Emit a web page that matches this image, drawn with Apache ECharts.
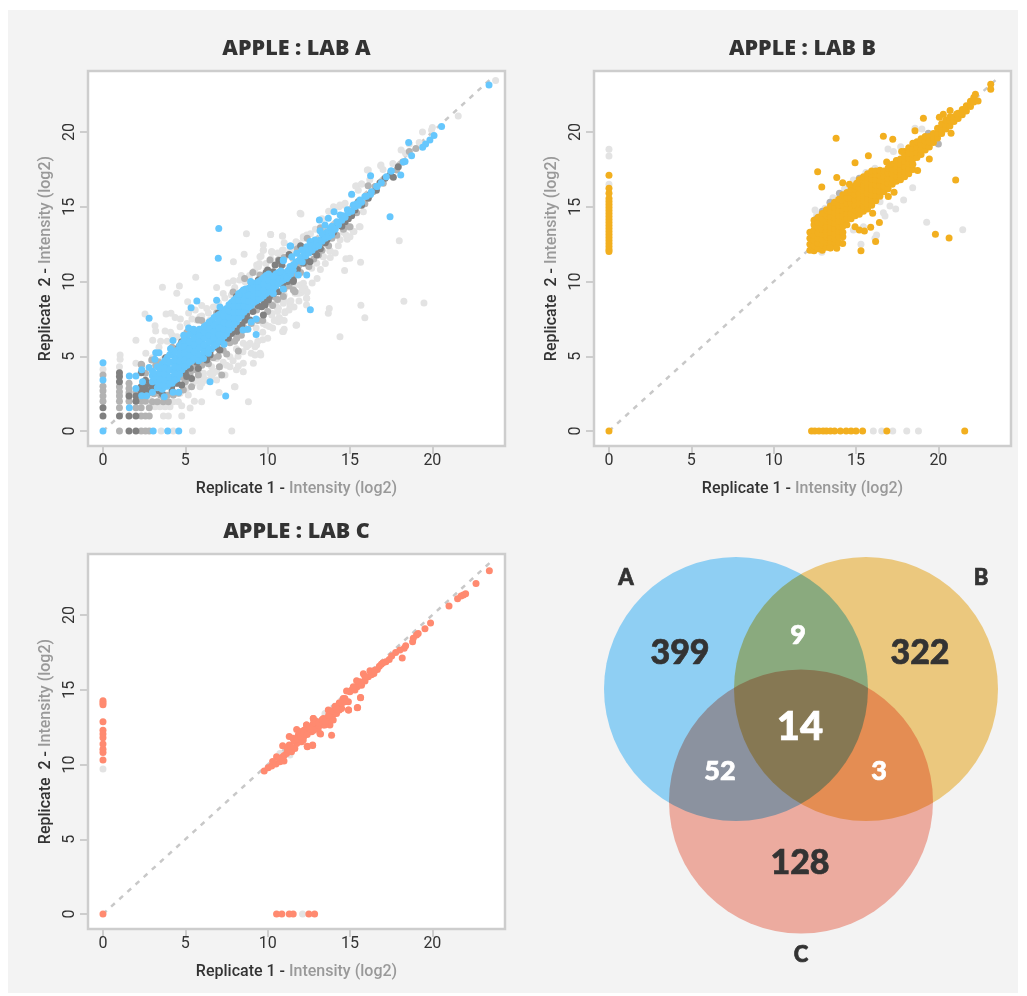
<!DOCTYPE html>
<html><head><meta charset="utf-8">
<style>html,body{margin:0;padding:0;background:#fff}#c{width:1027px;height:996px}</style>
<script src="https://cdn.jsdelivr.net/npm/echarts@6/dist/echarts.min.js"></script></head>
<body><div id="c"></div>
<script>
const tickValues=[0,5,10,15,20];
const titles=['APPLE : LAB A','APPLE : LAB B','APPLE : LAB C'];
const diagonal=[[0,0],[23.6,23.6]];

const aLight=[[23.84,23.44],[21.57,21.07],[19.95,20.14],[19.2,19.29],[18.37,18.58],[16.86,17.75],[16.05,17.46],[15.34,16.39],[15.7,16.52],[12.02,14.52],[10.18,13.14],[10.89,13.05],[12.16,13],[9.73,12.1],[10.26,11.95],[10.89,12.1],[15.56,13.67],[15.24,13.34],[15,13],[14.83,12.82],[14.29,12.4],[13.78,12.04],[13.38,11.67],[17.99,12.73],[15.64,11.29],[14.99,11.55],[14.75,11.53],[14.67,10.73],[18.27,8.68],[19.49,8.57],[15.66,8.41],[13.74,8.19],[13.68,7.87],[15.9,7.58],[14.39,6.31],[11.72,7.07],[10.91,6.65],[12.36,8.88],[12.36,8.43],[11.41,8.72],[11.35,8.36],[11.05,7.92],[10.85,7.43],[10.5,7.43],[9.73,7.2],[12.26,9.55],[11.92,9.21],[11.66,9.21],[11.55,9.66],[10.99,8.77],[10.54,8.32],[10.24,7.87],[14.33,15],[14.59,15.12],
[5.63,10.28],[3.61,9.61],[4.64,9.7],[4.48,9.21],[7.92,10.06],[8.63,9.99],[2.55,7.83],[3.16,7.05],[3.2,6.69],[2,6.07],[3.02,6.07],[3.77,6.69],[3.83,7.83],[4.13,7.87],[4.38,7.6],[4.68,6.98],[5.14,8.65],[6.3,8.2],[6.7,8.3],[5.89,7.65],[6.5,7.43],[5.69,7.43],[5.39,6.09],[4.88,5.98],[3.67,4.8],[2,4.53],[3.06,3.86],[8.83,1.96],[7.98,2.97],[7.05,2.57],[5.89,2.97],[5.99,1.96],[5.55,1.99],[5.29,1.54],[4.78,1],[3.67,1],[3.97,1],[5.43,0],[7.82,0],[3.53,0],[4.27,0],[1.04,5.09],[1.04,4.8],[1,4.3],[0,4.13],[6.7,3.86],[6.9,3.41],[6.1,3.86],[8.22,4.35],[8.52,4.53],[9.23,5.09],[9.54,5.2],[8.83,5.75],[9.23,5.64],[8.52,5.87],[10.95,6.65],[11.76,7.09],[10.65,7.31],[11.05,7.98],[10.25,7.76],[10.45,8.54],[11.36,8.54],[10.85,8.77],[7.92,11.33],[9.33,11.1],[9.94,10.77],
[8.71,13.2],[10.18,13.15],[10.91,13.04],[8.57,11.82],[9.74,12.1],[9.6,11.7],[10.25,11.95],[9.43,11],[11.97,14.56],[11.72,12.66],
[12.37,13.11],[12.17,12.89],[11.86,12.56],[10.95,12.11],[10.75,11.78],[10.24,12],[9.74,12.45],[9.53,11.66],[9.43,11],[9.23,10.66],[14.39,15.12],[14.7,15.23],[15.81,14.67],[15.61,13.67],[15.2,13.34],[14.76,13.11],[13.79,12.06],[13.38,11.66],[12.98,11.22],[12.67,10.88],[11.96,9.77],[12.17,9.88],[11.56,9.66],[11.76,9.21],[12.06,9.26],[12.37,8.88],[11.36,8.65],[10.95,8.54],[10.65,8.21],[15.4,16.39],[15.71,16.52],[16.11,17.46],[16.88,17.8],
[6.9,4.86],[6.6,4.3],[6.5,3.86],[6.09,3.64],[5.89,3.3],[5.49,3.19],[5.08,2.85],[5.18,2.41],[4.68,2.52],[4.27,1.96],[4.58,1.96],[3.16,1.63],[3.46,1.63],[3.77,1.63],[4.07,1.63],[4.78,1.7],[2.85,2.07],[7.1,4.3],[7.41,3.75],[8.52,3.97],[9.13,4.53],[9.58,5.08],[8.02,2.97],[7.71,4.3],[7.71,4.97],[8.1,5.5],[8.93,5.87],[8.72,5.64],[9.33,5.75],[9.7,6.6],[10,6.2],[9.9,7.1],[10.3,6.9],[9.3,6.9],[10.6,8],[11,9.1],[5.2,7.9],[6,8.4],[7.3,9.2],[6.9,9.6],[7.6,9.9],[8.4,10.4],[4.2,6.4],[4.5,6.3],[3.4,5.6],[2.6,5.2],[3,4.9],
[5.6,3.4],[6,3.2],[6.3,3.4],[6.6,3.6],[6.9,4],[7.3,4.6],[7.5,4.4],[7.9,4.7],[8.2,5],[8.5,5.3],[8.1,4.1],[9,5.2],[9.4,6],[9.7,6.1],[10.1,7],[10.4,7.4],[10.7,7.6],[11,7.4],[11.3,8.1],[11.6,8.3],[11.9,8.7],[12.1,9.5],[12.4,9.3],[12.7,9.9],[13,10.2],[13.2,10.8],[13.5,11.2],[13.8,11.6],[14.1,11.9],[14.4,12.8],[14.6,13.3],[15,13.6],[11,6.8],
[3.5,6],[3.9,6],[4.1,6.6],[4.7,7.5],[5.1,7.2],[5.4,7.5],[5.6,8.1],[6,7.7],[6.4,7.9],[7,8.6],[7.4,8.9],[7.8,9.1],[8,9.6],[8.3,10.1],[8.9,10.4],[9.2,10.7],[9.5,11.2],[9.9,11.2],[10.2,11.5],[10.6,11.9],[11,12.6],[11.4,12.1],[11.7,12.2],[12.6,13.2],[12.9,13.5],[13.3,14.2],[13.7,14.7],[14,15],[15.1,15.8],[15.5,16.1],[16.2,16.8],[17,17.5],[17.6,17.9],[18.1,18.8],[18.6,19.2],[19.4,20],[20,20.3]];
const aMid=[[0,3.75],[0,3],[0,2.7],[0,2.35],[0,2],[1,2.97],[1,2.63],[1,2.35],[1,2],[1,1.56],[1,0],[1.58,3.2],[1.58,2.85],[1.58,2.56],[1.58,2],[2,2.63],[2,1.56],[2.32,4.46],[2.32,2],[2.32,1.56],[2.32,1],[2.32,0],[2.58,3.86],[2.58,2],[2.58,1],[2.58,0],[2.81,1],[2.81,0],[2.81,1.56],[3,1.96],[3.3,1.96],[3.66,1.96],[3.97,1.96],[4.27,2.41],[4.58,2.52],[4.47,3.19],[4.88,2.74],[5.38,2.97],[5.79,3.75],[5.79,4.3],[6.5,4.97],[7.07,5.42],[7.51,5.15],[8.22,5.35],[7.07,4.3],[7.21,3.75],[5.79,7.43],[2.35,4.42],[2.96,4.75],[3.36,4.64],[7.71,7.09],[8.52,6.98],[8.12,6.2],[7.51,6.42],[9.33,8.1],[10.04,8.65],[10.24,9.43],[11.15,10.1],[11.66,9.32],[4.68,5.75],[4.47,5.42],[6.3,6.76],[16.52,16.35],[17.02,16.57],[17.83,17.46],[15,13.67],[14.8,14.23],[13.38,12.56],[13.08,11.78],[11.56,10.44],[10.14,11.44],[10.65,11.44],[11.86,11],[9.53,10.44],[9.33,9.66],[10.34,9],[10.95,9],[10.45,9.32],[11.56,9.43],[18.2,18],[18.6,18.7],[19,18.9],[16.1,16.4],[13.9,12.9],[14.6,13.5],[12.4,11.2],[4.8,3.6],[5.6,4.5],[6.1,4.6],[3.1,2.5],[3.5,2.4],
[3.9,2.4],[4.2,2.6],[5,3.3],[5.3,3.9],[5.6,4.1],[6,4.4],[6.4,4.5],[6.7,4.9],[7,5],[7.3,5.4],[7.7,5.9],[8,6],[8.4,6.4],[8.7,6.8],[9,7.2],[9.4,7.4],[9.7,7.4],[10,8],[10.3,8.4],[10.6,8.8],[11,9.5],[11.3,9.7],[12,10.6],[12.5,11],[12.8,11.5],[13.3,12.1],[13.7,12.4],[14.2,13.1],[14.8,13.7],[15.4,14.6],[15.9,15.2],[16.4,16],[9.1,10.6],[8.6,10.2],[7.9,9.3],[6.9,7.9],[6,7.4],[5.1,6.6],[4.2,5.6],[3.2,4.4],[11,11.6],[11.8,12.2],[12.4,12.9],[13.2,13.6]];
const aDark=[[0,1.56],[0,1],[1,3.9],[1,3.64],[1,3.3],[1,1],[1.58,2.35],[1.58,1],[1.58,0],[2,2.35],[2,2],[2,1],[2,0],[2.32,3.9],[2.32,2.97],[2.32,2.63],[2.58,3.4],[2.58,2.97],[2.58,2.63],[2.45,2.97],[2.85,3.19],[2.25,2.85],[3.26,2.85],[2.55,2.74],[3,2.9],[3.6,2.5],[4.17,2.97],[4.78,3.08],[5.08,3.64],[5.38,3.52],[5.79,4.19],[6.3,4.75],[5.28,4.75],[4.88,4.64],[4.68,4.3],[6.2,5.3],[6.5,5.08],[7.61,6.2],[7.81,6.53],[8.12,6.65],[8.42,7.1],[8.72,7.76],[8.93,7.43],[9.74,7.76],[9.64,8.32],[10.34,9.2],[10.65,9.32],[11.36,10.44],[11.56,10.1],[8.62,9.2],[6.09,6.76],[4.78,5.98],[5.49,4.86],[7.1,5.42],[17.13,16.9],[16.82,16.61],[17.63,16.97],[16.11,15.57],[15.5,15.34],[15.3,14.79],[14.7,14],[14.39,13.78],[14.09,13.67],[12.87,12.11],[12.98,11.78],[12.57,11.33],[12.17,11.22],[10.85,11.11],[10.45,11.11],[11.56,10],[10.34,10.66],[10,10.77],[10.95,10.33],[9.43,10.1],[9.84,8.43],[10.34,9.77],[10.04,8.77],[17.43,17.13],[17.93,17.68],[14.9,14.2],[13.6,12.8],[12.2,11.6],[11.2,10.6],
[5.7,4.6],[6.1,4.9],[6.5,5.3],[6.9,5.6],[7.3,5.9],[7.6,6.3],[8,6.7],[8.3,7],[8.6,7.4],[9.1,8],[9.4,8.4],[9.8,8.6],[10.1,9],[10.5,9.4],[10.9,9.8],[11.2,10],[11.8,10.8],[12.4,11.4],[12.7,12],[13.2,12.2],[13.5,12.6],[14,13.3],[14.5,13.7],[15.1,14.4],[15.7,15.1],[16.2,15.8],[16.6,16.1],[2.7,2.5],[3.1,3.1],[3.4,2.7],[2.9,2.7],[4.5,3.2],[4.2,2.7],[5,3.9],[5.3,4.2],[9.9,10.6],[10.7,11.4],[11.3,11.8],[12,12.4],[9,9.9],[8.1,9],[7,7.9],[5.9,6.7],[4.6,5.6],[3.8,4.9]];
const aBlueBand=[[3.0,[3.3,3.7,4.0]],[3.3,[2.9,3.3,3.7,4.3]],[3.6,[2.8,3.2,3.6,4.0,4.5]],[3.9,[3.0,3.4,3.9,4.3,4.9]],[4.2,[3.2,3.6,4.1,4.6,5.1]],[4.5,[3.5,4.0,4.4,4.9,5.4]],[4.8,[4.1,4.5,5.0,5.5,5.9]],[5.1,[4.4,4.9,5.3,5.8,6.2]],[5.4,[4.7,5.2,5.6,6.0,6.5]],[5.7,[4.9,5.4,5.8,6.2,6.6]],[6.0,[5.1,5.6,6.0,6.4,6.8]],[6.3,[5.3,5.7,6.2,6.7,7.1]],[6.6,[5.5,6.0,6.4,6.9,7.4]],[6.9,[5.8,6.3,6.7,7.2,7.7]],[7.2,[6.1,6.6,7.0,7.5,7.9]],[7.5,[6.5,6.9,7.4,7.8,8.2]],[7.8,[6.9,7.3,7.7,8.2,8.6]],[8.1,[7.3,7.7,8.1,8.5,8.9]],[8.4,[7.7,8.1,8.5,8.9,9.3]],[8.7,[8.1,8.5,8.9,9.4]],[9.0,[8.4,8.8,9.2,9.7]],[9.3,[8.7,9.1,9.5,9.9]],[9.6,[8.9,9.3,9.7,10.1]],[9.9,[9.2,9.6,10.0,10.4]],[10.2,[9.4,9.8,10.2]],[10.5,[9.7,10.1,10.5]],[10.8,[10.0,10.4,10.7]],[11.1,[10.2,10.6]],[11.4,[10.5,10.9]],
[3.15,[3.5,3.85]],[3.45,[3.1,3.5,3.9,4.2]],[3.75,[3,3.4,3.8,4.2,4.7]],[4.05,[3.2,3.6,4.1,4.6,5.1]],[4.35,[3.4,3.85,4.3,4.75,5.3]],[4.65,[3.8,4.25,4.7,5.2,5.7]],[4.95,[4.3,4.75,5.2,5.65,6.1]],[5.25,[4.6,5.05,5.5,5.95,6.45]],[5.55,[4.85,5.3,5.75,6.2,6.7]],[5.85,[5.1,5.55,6,6.4,6.8]],[6.15,[5.3,5.75,6.2,6.6,7]],[6.45,[5.5,5.95,6.4,6.85,7.3]],[6.75,[5.7,6.2,6.65,7.1,7.6]],[7.05,[6,6.45,6.9,7.35,7.8]],[7.35,[6.35,6.8,7.25,7.7,8.1]],[7.65,[6.75,7.15,7.6,8.05,8.45]],[7.95,[7.15,7.55,7.95,8.35,8.75]],[8.25,[7.55,7.95,8.35,8.75,9.15]],[8.55,[7.95,8.35,8.75,9.2]],[8.85,[8.3,8.7,9.1,9.55]],[9.15,[8.6,9,9.4,9.8]],[9.45,[8.8,9.2,9.6,10]],[9.75,[9.05,9.45,9.85,10.25]],[10.05,[9.3,9.7,10.1,10.5]],[10.35,[9.55,9.95,10.35]],[10.65,[9.85,10.25,10.6]],[10.95,[10.1,10.5]],[11.25,[10.35,10.75]],[11.55,[10.75,11.1]]];
const aBlue=[[0,4.57],[0,3.41],[0,0],[1.6,3.68],[2,3.68],[2,2.85],[1.6,1.56],[2.35,4.1],[2.4,3.3],[2.35,2.36],[2.65,2.36],[3,2.6],[2.8,4.25],[2.8,7.54],[3.15,4.8],[3.2,5.24],[3.4,5.24],[3.72,2.3],[4.25,2.6],[4.6,2.6],[4.25,6.05],[5.35,8.25],[5.7,8.7],[6.5,3.3],[7.45,2.35],[6.9,8.75],[7.1,8.3],[9.3,6.45],[9,7.3],[9.3,7.5],[8.8,6.8],[8.5,6.75],[3.05,0],[3.93,0],[4.6,0],[8.65,9.5],[8.25,9.2],[5.2,6.9],[5.5,6.8],[4.9,6.4],[4.1,5.5],[5.8,4.7],[6.1,4.85],[6.4,5.2],[7.35,5.8],
[18.24,18],[18.08,17.13],[17.5,17.4],[16.25,17.08],[17.43,14.34],[16.62,16.35],[16.25,15.83],[15.1,15.83],[15.9,15.68],[15.6,15.45],[15.2,15.12],[14.84,14.8],[14.03,14.67],[13.68,14.23],[13.14,14.12],[14.4,14.45],[13.48,13.78],[13.8,13.56],[13.18,13.4],[13.88,13.11],[13.38,13.11],[12.87,12.78],[12.57,12.67],[13.18,12.78],[11.36,12.38],[12.37,12.33],[12.07,12.11],[11.76,11.89],[11.46,11.66],[10.95,11.44],[12.37,10.44],[11.86,10.44],[11.36,11],[11.15,10.2],[10.75,10.66],[10.34,10.33],[8.97,10],[8.52,9.43],[10.95,9.5],[10.34,9.2],[12.59,8.12],
[23.44,23.15],[20.56,20.36],[20.1,19.76],[19.85,19.47],[19.59,19.2],[19.41,18.98],[18.56,19.29],[18.74,18.42],[18.34,18.02],[17.49,17.39],[16.65,16.37],[7.03,13.55],[7,11.55],[11.4,12.37],[10.95,11.39],[12.7,12.4],[13,12.6],[13.6,13.3],[14.2,14],[14.6,14.4],[15.4,15.2],[11.7,11.3],[12,11.6],[12.2,11.9],[12.5,12.1],[13.3,13.2],[13.9,13.7],
[11.6,11.1],[11.9,11.4],[12.1,11.3],[12.3,11.7],[12.5,11.9],[12.7,12.1],[12.9,12.3],[13.1,12.4],[13.3,12.7],[13.5,12.9],[13.7,13],[13.9,13.3],[14.1,13.5],[14.3,13.8],[14.5,14.1],[14.7,14.3],[14.9,14.6],[15.1,14.7],[15.3,15],[15.5,15.1],[15.7,15.3],[16,15.7],[16.3,16],[16.9,16.6],[17.2,17]];

const bLight=[[0,18.84],[0,18.4],[0,16.5],[16.05,0],[16.56,0],[17.23,0],[18.08,0],[18.79,0],[19.29,13.96],[21.48,13.47],[18.44,16.28],[17.89,15.45],[17.41,14.85],[17.06,15.05],[16.76,14.38],[16.66,14.6],[16.25,13.11],[16.15,12.89],[15.3,12.49],[16.94,18.86],[17.27,18.69],[17.71,19.02],[18.58,20.25],[16.15,17.57],[14.84,16.79],[13.42,15.23],[13.12,14.9],[12.51,14.78],[12.61,14.45],[12.92,11.95],[14.84,13.45],[16.46,15.34],[15.45,13.67],[15.95,15.12],[13.6,15.6],[14.3,16.2],[15.6,17.3],[19,20.2]];
const bMid=[[19.39,19.91],[20,19.2],[13.99,15.9],[13.42,15.3],[12.6,14.2],[12.95,14.7],[15.2,16.9]];
const bBand=[[12.2,[12.1,12.5,12.9,13.3]],[12.45,[12.05,12.4,12.75,13.1,13.45,13.8,14.1]],[12.7,[12.2,12.55,12.9,13.25,13.6,13.95,14.3]],[12.95,[12.1,12.45,12.8,13.15,13.5,13.85,14.2,14.55]],[13.2,[12.3,12.65,13,13.35,13.7,14.05,14.4,14.8]],[13.45,[12.25,12.6,12.95,13.3,13.65,14,14.35,14.7,15.05]],[13.7,[12.5,12.85,13.2,13.55,13.9,14.25,14.6,14.95,15.3]],[13.95,[12.6,13,13.35,13.7,14.05,14.4,14.75,15.1,15.5]],[14.2,[13,13.3,13.7,14.05,14.4,14.75,15.1,15.45,15.8]],[14.45,[13.8,14.2,14.55,14.9,15.25,15.6,15.95]],[14.7,[14.2,14.55,14.9,15.25,15.6,15.95,16.2]],[14.95,[14.4,14.75,15.1,15.45,15.8,16.15,16.4]],[15.2,[14.5,14.85,15.2,15.55,15.9,16.25,16.6,16.8]],[15.45,[14.7,15.05,15.4,15.75,16.1,16.45,16.8,17]],[15.7,[14.85,15.2,15.55,15.9,16.25,16.6,16.95,17.2]],[15.95,[15.1,15.45,15.8,16.15,16.5,16.85,17.2,17.4]],[16.2,[15.4,15.75,16.1,16.45,16.8,17.15,17.4]],[16.45,[15.7,16.05,16.4,16.75,17.1,17.45]],[16.7,[16,16.35,16.7,17.05,17.4]],[16.95,[16.2,16.55,16.9,17.25,17.6]],[17.2,[16.5,16.85,17.2,17.55,17.85]],[17.45,[16.7,17.05,17.4,17.75,18.1]],[17.7,[16.8,17.15,17.5,17.85,18.2]],[17.95,[17,17.35,17.7,18.05,18.4,18.7]],[18.2,[17.2,17.55,17.9,18.25,18.6,18.95]],[18.45,[17.5,17.85,18.2,18.55,18.9,19.25]],[18.7,[18.3,18.65,19,19.35]],[18.95,[18.5,18.85,19.2,19.55]],[19.2,[18.8,19.1,19.4,19.7]],[19.45,[19,19.35,19.7]],[19.7,[19.3,19.6,19.9]],[19.95,[19.6,19.95,20.25]],[20.2,[19.9,20.2,20.55]],[20.45,[20.2,20.5,20.8]],[20.7,[20.4,20.75,21]],[20.95,[20.7,21]],[21.2,[20.9,21.25]],[21.45,[21.15,21.5]],[21.7,[21.4,21.75]],[21.95,[21.7,22.05]],[22.15,[22,22.3]]];
const bOrange=[[0,0],[0,17.1],[0,16.23],[0,15.9],[0,15.56],[0,15.35],[0,15.15],[0,14.95],[0,14.75],[0,14.55],[0,14.35],[0,14.15],[0,13.95],[0,13.75],[0,13.55],[0,13.35],[0,13.15],[0,12.95],[0,12.75],[0,12.55],[0,12.35],[0,12.15],[0,12],[12.3,0],[12.5,0],[12.75,0],[13,0],[13.2,0],[13.45,0],[13.7,0],[14.05,0],[14.4,0],[14.7,0],[15,0],[15.4,0],[16.87,0],[21.6,0],[23.18,23.19],[23.18,22.86],[22.25,22.52],[22.41,22.08],[20.71,21.43],[21.11,21.2],[20.3,21.18],[20.06,20.98],[19.09,20.92],[20.77,19.91],[18.58,20.09],[16.66,19.71],[17.23,19.51],[13.79,19.58],[15.75,18.42],[14.94,17.95],[12.67,17.35],[13.83,16.95],[12.92,16.32],[14.19,16.61],[14.6,16.5],[15.04,16.57],[16.86,18],[17.77,18.69],[19.45,18.2],[18.74,17.42],[21.05,16.79],[19.82,13.16],[20.65,12.91],[16.42,13.94],[15.89,13.63],[15.51,13.38],[15.2,13.45],[14.94,13.67],[16.19,12.67],[15.3,12.06],[16.96,15.68],[17.31,15.97],[16.01,14.56],[14.19,12.55],[13.83,12.22],[13.42,12.26]];

const cLight=[[0,9.7],[12.12,0],[13.48,13.42],[10.74,10.74],[11.35,10.63]];
const cSalmon=[[0,0],[0,14.27],[0,14.13],[0,14],[0,12.86],[0,12.3],[0,12.04],[0,11.79],[0,11.37],[0,11.03],[0,10.81],[0,10.3],[10.54,0],[10.86,0],[11.31,0],[11.55,0],[12.5,0],[12.85,0],
[23.46,22.96],[22.65,22.11],[22.02,21.42],[21.88,21.33],[21.74,21.27],[21.53,21.09],[21.01,20.6],[19.89,19.46],[19.55,19.08],[19.14,18.77],[19.04,18.66],[18.84,18.44],[18.8,18.21],[18.38,17.95],[18.29,17.77],[18.17,17.12],[18.03,17.66],[17.77,17.5],[17.53,17.25],[17.38,17.03],[17.18,16.87],[16.78,16.58],[16.66,16.36],[16.45,16.09],[16.21,16.27],[15.81,16.07],[16.11,15.87],[15.91,15.58],[15.6,15.54],[15.44,15.2],[15.3,14.98],[15.64,14.47],[15.1,14.98],[14.79,14.91],[15.44,13.8],[14.91,13.64],[14.9,14.2],[14.59,14.42],[14.35,14.13],[14.49,13.75],[13.98,13.35],[13.68,13.64],[12.77,13.08],[12.36,12.64],[13.88,11.95],[12.73,11.28],[12.41,11.19],[13.21,12.04],[13.38,13.08],[13.68,13.08],[12.97,12.86],[13.78,12.64],[13.38,12.64],[12.97,12.42],[12.67,12.19],[12.26,12.19],[11.96,12.19],[12.16,11.86],[11.96,11.52],
[9.79,9.56],[10.03,9.78],[10.24,9.9],[10.54,10.52],[10.5,10.03],[10.74,10.19],[10.99,10.23],[10.91,11.26],[11.31,11.88],[11.31,11.3],[11.15,10.74],[11.45,10.86],[11.76,12.35],[11.86,11.97],[11.76,11.41],[12.06,12.19],[12.16,11.64],[12.36,12.64],[12.4,11.23],[12.73,11.3],[12.77,13.08],[12.56,12.19],[12.87,12.53],[13.17,12.08],[13.27,12.75],[13.78,13.08],[14.18,13.42],[14.39,14.09],[14.35,13.64],[14.69,14.42],[14.91,13.64],[15.46,13.82],[15.64,14.49],[14.99,14.87],[12.06,11.52],[11.65,11.08],[11.54,11.75],[12.77,12.75],[13.07,12.42],[13.48,12.64],[13.58,13.08],[13.98,12.97],[14.1,13.9],[12.5,12.5],[12.2,12.3],[12.2,11.9],[11.9,11.8],[11.65,11.55],
[11,10.6],[11.2,11],[11.4,11.2],[11.6,11.6],[11.8,11.7],[12,11.9],[12.2,12.1],[12.4,12],[12.6,12.4],[12.8,12.3],[12.9,12.9],[13.1,12.8],[13.3,13],[13.5,12.9],[13.7,13.3],[13.9,13.6],[14.2,13.7],[14.5,14.1],[14.7,14.2],[10.9,10.5],[10.7,10.4],[10.3,10.2],[16.9,16.7],[17,16.8],[16.3,16],[16.5,16.3],[15.7,15.3],[15.9,15.9],[15.2,15.2],[15.4,15.6]];

const vennCircles=[[146,139,132],[276,139,132],[211,251.5,132]];
const vennColors=['#96daff','#f7d284','#f8b4a7'];
const vennNumbers=[[90,103,'399',34,'#333'],[330,103,'322',34,'#333'],[210,313,'128',34,'#333'],[210,177,'14',40,'#fff'],[208,85,'9',27,'#fff'],[130,221,'52',27,'#fff'],[289,221,'3',27,'#fff'],[36,28,'A',22,'#333'],[391,28,'B',22,'#333'],[211,405,'C',22,'#333']];

const flat=cols=>cols.flatMap(([x,ys])=>ys.map(y=>[x,y]));
const GRAY_L='#e3e3e3',GRAY_M='#b3b3b3',GRAY_D='#808080';
const FONT='Roboto',HEAD='Open Sans',NUM='Lato';

const panels=[
 {left:88,top:71,layers:[[aLight,GRAY_L],[aMid,GRAY_M],[aDark,GRAY_D],[flat(aBlueBand).concat(aBlue),'#66c7fd']]},
 {left:594,top:71,layers:[[bLight,GRAY_L],[bMid,GRAY_M],[flat(bBand).concat(bOrange),'#f2af1f']]},
 {left:88,top:554,layers:[[cLight,GRAY_L],[cSalmon,'#ff8a70']]}
];
const grids=[],xAxes=[],yAxes=[],series=[],title=[];
const nameRich={a:{fontFamily:FONT,fontSize:16,color:'#333',fontWeight:500},b:{fontFamily:FONT,fontSize:16,color:'#999',fontWeight:500}};
panels.forEach((p,i)=>{
 grids.push({left:p.left,top:p.top,width:417,height:375,show:true,backgroundColor:'#fff',borderColor:'#cdcdcd',borderWidth:2.5,containLabel:false});
 const common={type:'value',gridIndex:i,splitLine:{show:false},axisLine:{show:false,onZero:false},
  axisTick:{show:true,length:8,customValues:tickValues,lineStyle:{color:'#cdcdcd',width:2}},
  nameLocation:'middle',nameTextStyle:{rich:nameRich}};
 xAxes.push({...common,min:-0.91,max:24.41,nameGap:35,name:'{a|Replicate 1 - }{b|Intensity (log2)}',
  axisLabel:{customValues:tickValues,margin:7,color:'#333',fontFamily:FONT,fontSize:16}});
 yAxes.push({...common,min:-1,max:24.08,nameGap:34,nameRotate:90,name:'{a|Replicate  2 - }{b|Intensity (log2)}',
  axisLabel:{customValues:tickValues,rotate:90,margin:10,color:'#333',fontFamily:FONT,fontSize:16}});
 title.push({text:titles[i],left:p.left+203.5,top:p.top-38,textAlign:'center',textStyle:{fontFamily:HEAD,fontWeight:800,fontSize:21.5,color:'#333'}});
 series.push({type:'line',xAxisIndex:i,yAxisIndex:i,data:diagonal,showSymbol:false,silent:true,z:1,lineStyle:{color:'#c8c8c8',width:2.5,type:[5,6]}});
 p.layers.forEach(([d,c],j)=>series.push({type:'scatter',xAxisIndex:i,yAxisIndex:i,data:d,symbolSize:7,z:2+j,silent:true,itemStyle:{color:c,opacity:1}}));
});
grids.push({left:590,top:550,width:420,height:420,show:false});
const hid={type:'value',gridIndex:3,min:0,max:420,show:false};
xAxes.push({...hid});yAxes.push({...hid,inverse:true});
series.push({type:'custom',xAxisIndex:3,yAxisIndex:3,silent:true,z:5,clip:false,blendMode:'multiply',data:vennCircles,
 renderItem:(params,api)=>{const c=api.coord([api.value(0),api.value(1)]);const r=api.size([api.value(2),0])[0];
  return {type:'circle',shape:{cx:c[0],cy:c[1],r:r},style:{fill:vennColors[params.dataIndex]}};}});
series.push({type:'custom',xAxisIndex:3,yAxisIndex:3,silent:true,z:6,clip:false,data:vennNumbers.map(v=>v.slice(0,2)),
 renderItem:(params,api)=>{const v=vennNumbers[params.dataIndex];const c=api.coord([v[0],v[1]]);
  return {type:'text',x:c[0],y:c[1],style:{text:v[2],fontFamily:NUM,fontWeight:900,fontSize:v[3],fill:v[4],stroke:v[4],lineWidth:0.7,textAlign:'center',textVerticalAlign:'middle'}};}});

const chart=echarts.init(document.getElementById('c'),null,{renderer:'canvas'});
chart.setOption({animation:false,backgroundColor:'#fff',
 graphic:[{type:'rect',z:-10,shape:{x:8,y:10,width:1010,height:983},style:{fill:'#f3f3f3'}}],
 title,grid:grids,xAxis:xAxes,yAxis:yAxes,series});
</script></body></html>
